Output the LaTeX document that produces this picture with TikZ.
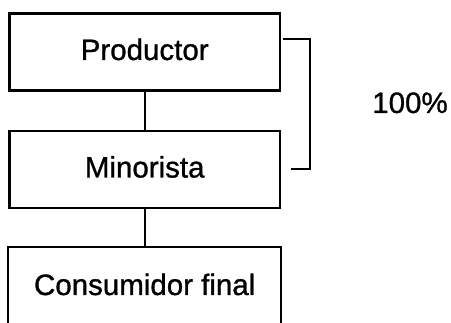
\documentclass[tikz,border=0pt]{standalone}
\usepackage{fontspec}
\setmainfont{Liberation Sans}
\newfontface\heavyface{Liberation Sans}[FakeBold=1]
\usetikzlibrary{calc}
\begin{document}
\begin{tikzpicture}[x=1pt,y=1pt,
  box/.style={draw, line width=2.2pt, minimum width=270.5pt, minimum height=77pt,
    inner sep=0pt, font=\heavyface\fontsize{29.5}{34}\selectfont, text height=21pt, text depth=5pt},
  link/.style={line width=2.2pt},
  brack/.style={line width=1.6pt},
  lbl/.style={font=\heavyface\fontsize{29.5}{34}\selectfont, inner sep=0pt}]
\useasboundingbox (0,0) rectangle (451,-323);
\node[box] (prod) at (144.7,-52) {Productor};
\node[box] (mino) at (144.7,-169.5) {Minorista};
\node[box, draw=none] (cons) at (144.7,-287) {Consumidor final};
\coordinate (cbl) at ($(cons.south west)+(0,-10)$);
\coordinate (cbr) at ($(cons.south east)+(0,-10)$);
\draw[line width=2.2pt] (cbl) -- (cons.north west) -- (cons.north east) -- (cbr);
\draw[link] (prod.south) -- (mino.north);
\draw[link] (mino.south) -- (cons.north);
\coordinate (b1) at (283,-39);
\coordinate (b2) at (310,-39);
\coordinate (b3) at (310,-169);
\coordinate (b4) at (291,-169);
\draw[brack] (b1) -- (b2) -- (b3) -- (b4);
\node[lbl, anchor=base] (pct) at (410,-113) {100\%};
\end{tikzpicture}
\end{document}
